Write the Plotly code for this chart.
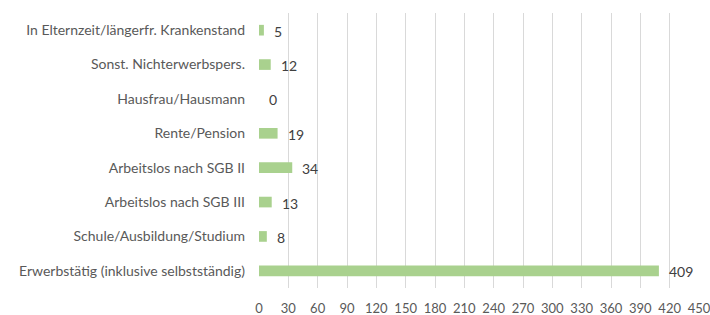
import plotly.graph_objects as go

categories = [
    "Erwerbstätig (inklusive selbstständig)",
    "Schule/Ausbildung/Studium",
    "Arbeitslos nach SGB III",
    "Arbeitslos nach SGB II",
    "Rente/Pension",
    "Hausfrau/Hausmann",
    "Sonst. Nichterwerbspers.",
    "In Elternzeit/längerfr. Krankenstand",
]
values = [409, 8, 13, 34, 19, 0, 12, 5]
x_ticks = list(range(0, 451, 30))

FONT = "Lato"
fig = go.Figure()
fig.add_trace(go.Bar(
    y=categories, x=values, orientation="h",
    marker=dict(color="#A9D18E", line=dict(width=0)),
    width=0.31,
    hoverinfo="skip",
))
for c, v in zip(categories, values):
    fig.add_annotation(x=v, y=c, text=str(v), showarrow=False,
                       xanchor="left", xshift=8, yshift=-1,
                       font=dict(family=FONT, size=14, color="#404040"))

fig.update_layout(
    width=710, height=315,
    margin=dict(l=259, r=11, t=13, b=27, autoexpand=False),
    paper_bgcolor="white", plot_bgcolor="white",
    showlegend=False,
    font=dict(family=FONT, size=14, color="#595959"),
)
fig.update_xaxes(range=[0, 450], tickvals=x_ticks, ticktext=[str(t) for t in x_ticks],
                 tickfont=dict(size=13),
                 showgrid=True, gridcolor="#D9D9D9", gridwidth=1,
                 zeroline=False, showline=False, ticks="", ticklabelstandoff=11,
                 ticklabeloverflow="allow",
                 automargin=False, fixedrange=True)
fig.update_yaxes(categoryorder="array", categoryarray=categories,
                 showgrid=False, zeroline=False, showline=False, ticks="",
                 ticklabelstandoff=13, automargin=False, fixedrange=True)

fig.write_html("out.html", config={"displayModeBar": False},
               post_script="document.body.style.margin='0';document.body.style.overflow='hidden';")
